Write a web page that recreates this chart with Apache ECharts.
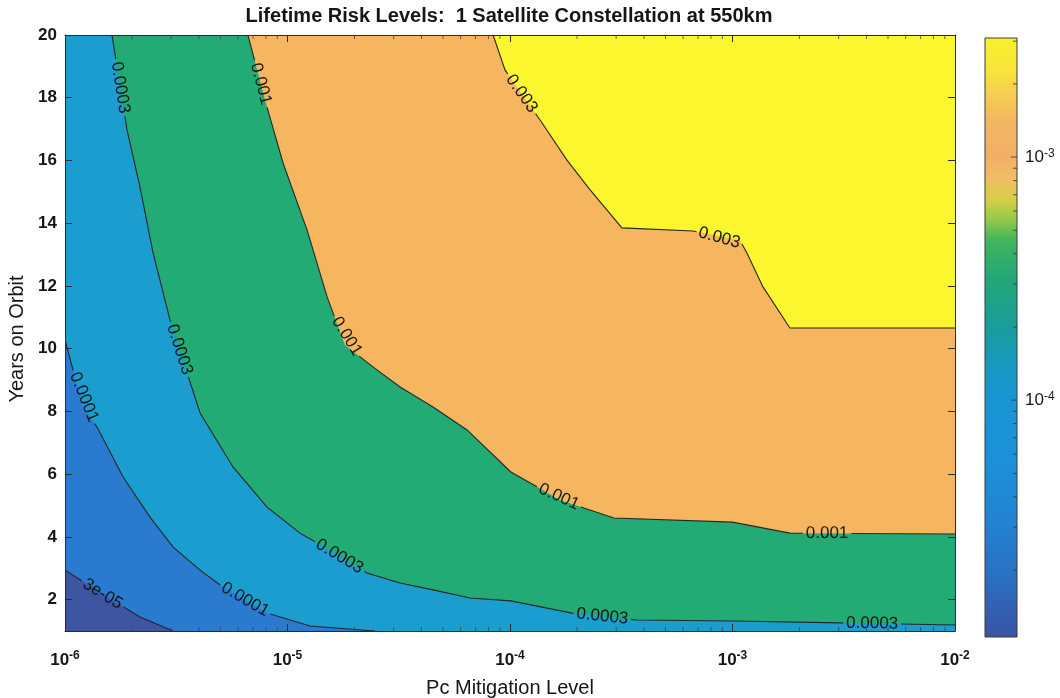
<!DOCTYPE html>
<html>
<head>
<meta charset="utf-8">
<title>Lifetime Risk Levels</title>
<script src="https://cdn.jsdelivr.net/npm/echarts@6/dist/echarts.min.js"></script>
<style>
  html, body { margin: 0; padding: 0; background: #ffffff; }
  #chart { width: 1060px; height: 698px; }
</style>
</head>
<body>
<div id="chart"></div>
<script>
// ---- axis ranges and ticks ----
const X_MIN = 1e-6, X_MAX = 1e-2;
const Y_MIN = 1, Y_MAX = 20;
const yTicks = [2, 4, 6, 8, 10, 12, 14, 16, 18, 20];
const cbarTickExponents = [-4, -3];
const CBAR_MIN = 1.06e-5, CBAR_MAX = 3.09e-3;

// ---- contour levels ----
const levels = [3e-5, 1e-4, 3e-4, 1e-3, 3e-3];
const levelLabels = ['3e-05', '0.0001', '0.0003', '0.001', '0.003'];
// fill below the first level, then above each level in turn
const regionColors = ['#3e55a2', '#2a7bcf', '#1b9dcf', '#22ab74', '#f6b55f', '#fbf62e'];

// ---- contour lines: [Pc, years on orbit] ----
const contour3e5 = [[1.0e-6, 2.94], [1.545e-6, 2.08], [2.173e-6, 1.45], [3.055e-6, 1.0]];
const contour1e4 = [
  [1.0e-6, 10.28], [1.205e-6, 8.14], [1.393e-6, 7.50], [1.824e-6, 5.91], [2.410e-6, 4.63],
  [3.055e-6, 3.68], [4.046e-6, 2.94], [5.129e-6, 2.40], [8.091e-6, 1.57], [1.262e-5, 1.16],
  [2.472e-5, 1.0]
];
const contour3e4 = [
  [1.626e-6, 20], [1.901e-6, 16.97], [2.173e-6, 15.15], [2.489e-6, 13.05], [2.965e-6, 10.91],
  [4.046e-6, 7.95], [5.689e-6, 6.23], [8.091e-6, 4.95], [1.138e-5, 4.12], [1.633e-5, 3.49],
  [2.275e-5, 2.85], [3.206e-5, 2.53], [4.508e-5, 2.31], [6.607e-5, 2.05], [1.009e-4, 1.96],
  [1.901e-4, 1.57], [3.724e-4, 1.35], [1.0e-3, 1.32], [3.041e-3, 1.26], [1.0e-2, 1.19]
];
const contour1e3 = [
  [6.637e-6, 20], [8.091e-6, 17.70], [9.55e-6, 15.92], [1.225e-5, 13.78], [1.507e-5, 11.65],
  [1.811e-5, 10.12], [2.421e-5, 9.42], [3.206e-5, 8.78], [4.508e-5, 8.14], [6.412e-5, 7.41],
  [1.009e-4, 6.07], [1.679e-4, 5.18], [2.931e-4, 4.60], [1.0e-3, 4.47], [1.811e-3, 4.12],
  [1.0e-2, 4.09]
];
const contour3e3 = [
  [8.395e-5, 20], [9.506e-5, 18.88], [1.365e-4, 17.29], [1.803e-4, 16.01], [2.291e-4, 15.06],
  [3.184e-4, 13.85], [6.637e-4, 13.75], [1.079e-3, 13.46], [1.161e-3, 13.05], [1.371e-3, 11.97],
  [1.811e-3, 10.66], [1.0e-2, 10.66]
];
const contours = [contour3e5, contour1e4, contour3e4, contour1e3, contour3e3];

// ---- where the inline level labels sit on each line ----
const labelSpots3e5 = [[1.436e-6, 2.05]];
const labelSpots1e4 = [[1.205e-6, 8.43], [6.44e-6, 1.99]];
const labelSpots3e4 = [[1.73e-6, 18.31], [3.22e-6, 9.96], [1.652e-5, 3.20], [2.59e-4, 1.35], [4.24e-3, 1.16]];
const labelSpots1e3 = [[7.30e-6, 18.41], [1.83e-5, 10.34], [1.66e-4, 5.27], [2.66e-3, 4.06]];
const labelSpots3e3 = [[1.109e-4, 18.09], [8.79e-4, 13.53]];
const labelSpots = [labelSpots3e5, labelSpots1e4, labelSpots3e4, labelSpots1e3, labelSpots3e3];

// ---- colour bar: [value, colour] stops ----
const cbarValues = [3.09e-3, 2.28e-3, 1.80e-3, 1.355e-3, 1.0e-3, 8.04e-4, 6.65e-4, 5.51e-4, 4.55e-4,
  3.12e-4, 1.94e-4, 1.33e-4, 1.0e-4, 5.66e-5, 3.21e-5, 1.82e-5, 1.06e-5];
const cbarColors = ['#f8f02a', '#f8e53c', '#f6cc52', '#f3b562', '#f2af66', '#efbf63', '#d6cf46', '#93c94a',
  '#42b55c', '#22a678', '#1a9c9f', '#1898c5', '#1896d3', '#1c90da', '#2383d2', '#2b6ec0', '#3b53a3'];

const FONT = '"Liberation Sans", Arial, Helvetica, sans-serif';
const TEXT_COLOR = '#161616';
const LINE_COLOR = '#262626';
const LABEL_FONT = '17px ' + FONT;

const measureCtx = document.createElement('canvas').getContext('2d');
function textWidth(text, font) {
  measureCtx.font = font;
  return measureCtx.measureText(text).width;
}

function readPoints(params, api) {
  const pts = [];
  for (let i = 0; i < params.dataInsideLength; i++) {
    pts.push([api.value(0, i), api.value(1, i)]);
  }
  return pts;
}

// filled region above a level: the line closed round the upper-right corner of the plot
function fillRenderer(k) {
  return function (params, api) {
    if (params.dataIndexInside !== 0) return null;
    const pts = readPoints(params, api);
    const first = pts[0], last = pts[pts.length - 1];
    if (last[1] <= Y_MIN) pts.push([X_MAX, Y_MIN]);
    pts.push([X_MAX, Y_MAX]);
    if (first[0] <= X_MIN) pts.push([X_MIN, Y_MAX]);
    return {
      type: 'polygon',
      z2: k,
      shape: { points: pts.map(p => api.coord(p)) },
      style: { fill: regionColors[k + 1], stroke: null }
    };
  };
}

// contour line with inline labels, the line broken where a label sits
function lineRenderer(k) {
  return function (params, api) {
    if (params.dataIndexInside !== 0) return null;
    const px = readPoints(params, api).map(p => api.coord(p));
    const n = px.length;
    const cum = [0];
    for (let i = 1; i < n; i++) {
      cum.push(cum[i - 1] + Math.hypot(px[i][0] - px[i - 1][0], px[i][1] - px[i - 1][1]));
    }
    const total = cum[n - 1];
    const at = function (s) {
      s = Math.max(0, Math.min(total, s));
      for (let i = 0; i < n - 1; i++) {
        if (s <= cum[i + 1]) {
          const seg = cum[i + 1] - cum[i] || 1;
          const t = (s - cum[i]) / seg;
          return [px[i][0] + t * (px[i + 1][0] - px[i][0]), px[i][1] + t * (px[i + 1][1] - px[i][1])];
        }
      }
      return px[n - 1].slice();
    };
    const children = [];
    const gaps = [];
    const text = levelLabels[k];
    const half = textWidth(text, LABEL_FONT) / 2 + 3;
    labelSpots[k].forEach(function (spot) {
      const p = api.coord(spot);
      let best = Infinity, bestS = 0;
      for (let i = 0; i < n - 1; i++) {
        const ax = px[i][0], ay = px[i][1];
        const dx = px[i + 1][0] - ax, dy = px[i + 1][1] - ay;
        const len2 = dx * dx + dy * dy || 1;
        const t = Math.max(0, Math.min(1, ((p[0] - ax) * dx + (p[1] - ay) * dy) / len2));
        const qx = ax + t * dx, qy = ay + t * dy;
        const d2 = (p[0] - qx) * (p[0] - qx) + (p[1] - qy) * (p[1] - qy);
        if (d2 < best) { best = d2; bestS = cum[i] + t * Math.sqrt(len2); }
      }
      const p0 = at(bestS - half), p1 = at(bestS + half);
      let ang = Math.atan2(p1[1] - p0[1], p1[0] - p0[0]);
      if (ang > Math.PI / 2) ang -= Math.PI;
      if (ang < -Math.PI / 2) ang += Math.PI;
      const c = [(p0[0] + p1[0]) / 2, (p0[1] + p1[1]) / 2];
      gaps.push([bestS - half, bestS + half]);
      children.push({
        type: 'text', x: c[0], y: c[1], rotation: -ang, z2: 101,
        style: { text: text, font: LABEL_FONT, fill: TEXT_COLOR, align: 'center', verticalAlign: 'middle' }
      });
    });
    gaps.sort((a, b) => a[0] - b[0]);
    const spans = [];
    let s = 0;
    gaps.forEach(function (g) {
      if (g[0] > s) spans.push([s, g[0]]);
      s = Math.max(s, g[1]);
    });
    if (s < total) spans.push([s, total]);
    spans.forEach(function (sp) {
      const pts = [at(sp[0])];
      for (let i = 0; i < n; i++) if (cum[i] > sp[0] && cum[i] < sp[1]) pts.push(px[i]);
      pts.push(at(sp[1]));
      children.push({
        type: 'polyline', z2: 100, shape: { points: pts },
        style: { stroke: LINE_COLOR, lineWidth: 1.1, fill: null }
      });
    });
    return { type: 'group', children: children };
  };
}

// minor ticks of the log x axis, on bottom and top edges
function minorTickRenderer(params, api) {
  if (params.dataIndexInside !== 0) return null;
  const cs = params.coordSys;
  const children = [];
  for (let e = -6; e < -2; e++) {
    for (let m = 2; m <= 9; m++) {
      const x = api.coord([m * Math.pow(10, e), Y_MIN])[0];
      children.push({ type: 'line', shape: { x1: x, y1: cs.y + cs.height, x2: x, y2: cs.y + cs.height - 4 },
        style: { stroke: '#444', lineWidth: 0.8 }, z2: 110 });
      children.push({ type: 'line', shape: { x1: x, y1: cs.y, x2: x, y2: cs.y + 4 },
        style: { stroke: '#444', lineWidth: 0.8 }, z2: 110 });
    }
  }
  return { type: 'group', children: children };
}

// colour bar: gradient strip, outline and its log ticks
function colorbarRenderer(params, api) {
  if (params.dataIndexInside !== 0) return null;
  const top = api.coord([0, Math.log10(CBAR_MAX)]);
  const bottom = api.coord([1, Math.log10(CBAR_MIN)]);
  const x0 = top[0], x1 = bottom[0], y0 = top[1], y1 = bottom[1];
  const stops = cbarValues.map(function (v, i) {
    const y = api.coord([0, Math.log10(v)])[1];
    return { offset: Math.max(0, Math.min(1, (y - y0) / (y1 - y0))), color: cbarColors[i] };
  });
  const children = [{
    type: 'rect', shape: { x: x0, y: y0, width: x1 - x0, height: y1 - y0 },
    style: { fill: new echarts.graphic.LinearGradient(0, 0, 0, 1, stops), stroke: '#3a3a3a', lineWidth: 1 }
  }];
  for (let e = -5; e <= -3; e++) {
    for (let m = 1; m <= 9; m++) {
      const v = m * Math.pow(10, e);
      if (v < CBAR_MIN || v > CBAR_MAX) continue;
      const y = api.coord([0, Math.log10(v)])[1];
      const len = m === 1 ? 6 : 4;
      children.push({ type: 'line', shape: { x1: x1, y1: y, x2: x1 - len, y2: y },
        style: { stroke: '#333', lineWidth: 0.8 } });
    }
  }
  return { type: 'group', children: children };
}

const powLabel = {
  b: { fontSize: 17, fontWeight: 'bold', fontFamily: FONT, color: TEXT_COLOR, lineHeight: 20 },
  s: { fontSize: 12, fontWeight: 'bold', fontFamily: FONT, color: TEXT_COLOR, verticalAlign: 'top', lineHeight: 12 }
};
const cbarPowLabel = {
  b: { fontSize: 17, fontFamily: FONT, color: TEXT_COLOR, lineHeight: 19 },
  s: { fontSize: 12, fontFamily: FONT, color: TEXT_COLOR, verticalAlign: 'top', lineHeight: 12 }
};

const boxLine = { show: true, onZero: false, lineStyle: { color: '#2b2b2b', width: 1 } };
const inTick = { show: true, inside: true, length: 7, lineStyle: { color: '#2b2b2b', width: 1 } };

const series = [];
contours.forEach(function (pts, k) {
  series.push({
    type: 'custom', name: 'fill ' + levelLabels[k], coordinateSystem: 'cartesian2d',
    xAxisIndex: 0, yAxisIndex: 0, clip: true, silent: true,
    data: pts, encode: { x: 0, y: 1 }, renderItem: fillRenderer(k)
  });
});
contours.forEach(function (pts, k) {
  series.push({
    type: 'custom', name: 'level ' + levelLabels[k], coordinateSystem: 'cartesian2d',
    xAxisIndex: 0, yAxisIndex: 0, clip: true, silent: true,
    data: pts, encode: { x: 0, y: 1 }, renderItem: lineRenderer(k)
  });
});
series.push({
  type: 'custom', name: 'minor ticks', coordinateSystem: 'cartesian2d',
  xAxisIndex: 0, yAxisIndex: 0, silent: true, z: 6,
  data: [[X_MIN, Y_MIN]], renderItem: minorTickRenderer
});
series.push({
  type: 'custom', name: 'colorbar', coordinateSystem: 'cartesian2d',
  xAxisIndex: 2, yAxisIndex: 2, silent: true,
  data: [[0, Math.log10(CBAR_MIN)]], renderItem: colorbarRenderer
});

const chart = echarts.init(document.getElementById('chart'), null, { renderer: 'canvas' });
chart.setOption({
  backgroundColor: '#ffffff',
  animation: false,
  textStyle: { fontFamily: FONT },
  graphic: [{
    type: 'text', x: 509, y: 16, z: 100,
    style: {
      text: 'Lifetime Risk Levels:  1 Satellite Constellation at 550km',
      font: 'bold 20px ' + FONT, fill: TEXT_COLOR, align: 'center', verticalAlign: 'middle'
    }
  }],
  grid: [
    { left: 65, right: 105, top: 35, bottom: 67, outerBoundsMode: 'none',
      show: true, backgroundColor: regionColors[0], borderWidth: 0 },
    { left: 985, width: 32, top: 38, bottom: 61, outerBoundsMode: 'none' }
  ],
  xAxis: [
    {
      type: 'log', logBase: 10, gridIndex: 0, position: 'bottom', min: X_MIN, max: X_MAX, z: 5,
      axisLine: boxLine, axisTick: inTick, splitLine: { show: false },
      axisLabel: {
        margin: 19, rich: powLabel,
        formatter: v => '{b|10}{s|' + Math.round(Math.log10(v)) + '}'
      },
      name: 'Pc Mitigation Level', nameLocation: 'middle', nameGap: 47,
      nameTextStyle: { fontSize: 20, color: TEXT_COLOR, fontFamily: FONT }
    },
    {
      type: 'log', logBase: 10, gridIndex: 0, position: 'top', min: X_MIN, max: X_MAX, z: 5,
      axisLine: boxLine, axisTick: inTick, axisLabel: { show: false }, splitLine: { show: false }
    },
    { type: 'value', gridIndex: 1, min: 0, max: 1, show: false }
  ],
  yAxis: [
    {
      type: 'value', gridIndex: 0, position: 'left', min: Y_MIN, max: Y_MAX, z: 5,
      axisLine: boxLine,
      axisTick: Object.assign({ customValues: yTicks }, inTick),
      splitLine: { show: false },
      axisLabel: { customValues: yTicks, margin: 8, fontSize: 17, fontWeight: 'bold', color: TEXT_COLOR, fontFamily: FONT },
      name: 'Years on Orbit', nameLocation: 'middle', nameGap: 35,
      nameTextStyle: { fontSize: 20, color: TEXT_COLOR, fontFamily: FONT, padding: [0, 12, 0, 0] }
    },
    {
      type: 'value', gridIndex: 0, position: 'right', min: Y_MIN, max: Y_MAX, z: 5,
      axisLine: boxLine,
      axisTick: Object.assign({ customValues: yTicks }, inTick),
      axisLabel: { show: false }, splitLine: { show: false }
    },
    {
      type: 'value', gridIndex: 1, position: 'right',
      min: Math.log10(CBAR_MIN), max: Math.log10(CBAR_MAX),
      axisLine: { show: false }, axisTick: { show: false }, splitLine: { show: false },
      axisLabel: {
        customValues: cbarTickExponents, margin: 8, rich: cbarPowLabel,
        formatter: v => '{b|10}{s|' + Math.round(v) + '}'
      }
    }
  ],
  series: series
});
</script>
</body>
</html>
